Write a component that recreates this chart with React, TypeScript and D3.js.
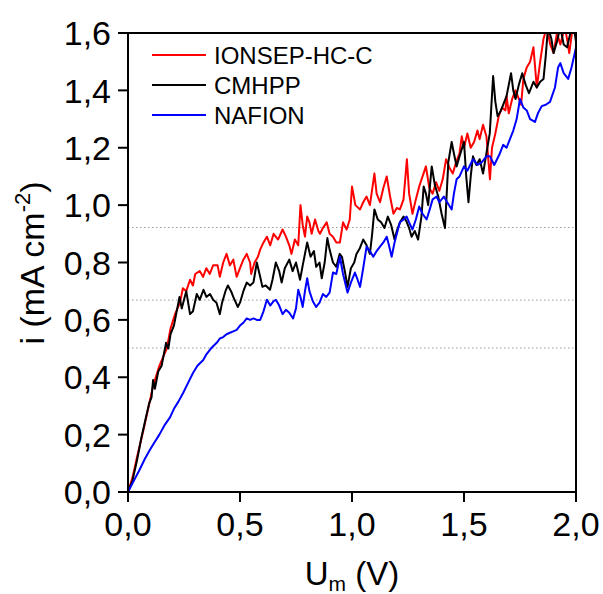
import React from "react";
import * as d3 from "d3";

const seriesNames = ["IONSEP-HC-C", "CMHPP", "NAFION"];
const seriesColors = ["#ff0000", "#000000", "#0000ff"];

const xTicks = [0, 0.5, 1.0, 1.5, 2.0];
const yTicks = [0, 0.2, 0.4, 0.6, 0.8, 1.0, 1.2, 1.4, 1.6];
const refLines = [0.922, 0.669, 0.502];

const ionsep: [number, number][] = [
  [0, 0], [0.02, 0.05], [0.04, 0.12], [0.067, 0.21], [0.09, 0.29], [0.112, 0.37], [0.14, 0.44],
  [0.173, 0.5], [0.19, 0.57], [0.21, 0.62], [0.232, 0.66], [0.245, 0.71], [0.26, 0.7], [0.277, 0.74],
  [0.29, 0.72], [0.3, 0.76], [0.32, 0.77], [0.335, 0.75], [0.35, 0.78], [0.365, 0.76], [0.38, 0.79],
  [0.4, 0.79], [0.41, 0.75], [0.425, 0.8], [0.44, 0.83], [0.455, 0.79], [0.47, 0.81], [0.485, 0.75],
  [0.5, 0.78], [0.515, 0.81], [0.53, 0.83], [0.545, 0.8], [0.55, 0.76], [0.565, 0.8], [0.58, 0.82],
  [0.59, 0.845], [0.605, 0.87], [0.62, 0.89], [0.635, 0.86], [0.65, 0.9], [0.67, 0.88], [0.69, 0.915],
  [0.705, 0.89], [0.72, 0.86], [0.73, 0.83], [0.745, 0.88], [0.76, 0.86], [0.77, 1.0], [0.78, 0.93],
  [0.79, 0.89], [0.8, 0.96], [0.81, 0.94], [0.82, 0.9], [0.835, 0.95], [0.85, 0.91], [0.857, 0.9],
  [0.87, 0.92], [0.887, 0.94], [0.9, 0.9], [0.915, 0.89], [0.93, 0.87], [0.946, 0.87], [0.96, 0.94],
  [0.976, 0.915], [0.99, 0.95], [1.0, 1.065], [1.015, 1.0], [1.036, 0.985], [1.05, 1.01], [1.065, 1.03],
  [1.08, 1.0], [1.1, 1.11], [1.11, 1.04], [1.125, 1.01], [1.14, 1.06], [1.155, 1.1], [1.17, 1.03],
  [1.185, 0.97], [1.2, 0.99], [1.214, 0.985], [1.23, 1.02], [1.245, 1.16], [1.255, 1.04], [1.27, 0.97],
  [1.285, 1.02], [1.3, 1.065], [1.315, 1.1], [1.33, 1.135], [1.345, 1.06], [1.36, 1.04], [1.375, 1.08],
  [1.39, 1.05], [1.405, 1.09], [1.42, 1.16], [1.435, 1.13], [1.45, 1.11], [1.465, 1.15], [1.48, 1.18],
  [1.49, 1.24], [1.5, 1.2], [1.515, 1.25], [1.53, 1.2], [1.545, 1.22], [1.56, 1.26], [1.57, 1.23],
  [1.585, 1.28], [1.6, 1.24], [1.616, 1.09], [1.625, 1.2], [1.64, 1.25], [1.655, 1.31], [1.67, 1.34],
  [1.685, 1.33], [1.69, 1.38], [1.7, 1.32], [1.715, 1.37], [1.73, 1.4], [1.74, 1.38], [1.755, 1.35],
  [1.765, 1.44], [1.78, 1.48], [1.795, 1.5], [1.81, 1.55], [1.825, 1.41], [1.84, 1.5], [1.855, 1.58],
  [1.87, 1.62], [1.885, 1.56], [1.9, 1.53], [1.915, 1.6], [1.93, 1.56], [1.95, 1.62], [1.96, 1.58],
  [1.97, 1.53], [1.985, 1.62], [1.995, 1.6],
];

const cmhpp: [number, number][] = [
  [0, 0], [0.02, 0.04], [0.04, 0.11], [0.06, 0.19], [0.08, 0.26], [0.095, 0.31], [0.105, 0.33],
  [0.112, 0.39], [0.12, 0.36], [0.135, 0.42], [0.15, 0.44], [0.16, 0.48], [0.17, 0.52], [0.18, 0.5],
  [0.19, 0.55], [0.205, 0.58], [0.215, 0.62], [0.23, 0.68], [0.24, 0.64], [0.25, 0.67], [0.26, 0.7],
  [0.277, 0.62], [0.29, 0.63], [0.307, 0.69], [0.32, 0.67], [0.337, 0.705], [0.35, 0.68], [0.366, 0.69],
  [0.38, 0.67], [0.395, 0.66], [0.41, 0.62], [0.42, 0.66], [0.435, 0.7], [0.446, 0.72], [0.46, 0.7],
  [0.47, 0.68], [0.49, 0.645], [0.5, 0.66], [0.515, 0.7], [0.53, 0.73], [0.545, 0.72], [0.56, 0.73],
  [0.575, 0.8], [0.59, 0.75], [0.6, 0.715], [0.615, 0.72], [0.634, 0.705], [0.645, 0.74], [0.66, 0.8],
  [0.675, 0.77], [0.686, 0.73], [0.7, 0.78], [0.72, 0.81], [0.735, 0.77], [0.75, 0.8], [0.768, 0.74],
  [0.78, 0.79], [0.8, 0.87], [0.815, 0.82], [0.83, 0.84], [0.84, 0.785], [0.855, 0.8], [0.865, 0.745],
  [0.878, 0.8], [0.89, 0.885], [0.9, 0.845], [0.915, 0.8], [0.93, 0.785], [0.945, 0.83], [0.955, 0.82],
  [0.968, 0.77], [0.98, 0.715], [0.995, 0.78], [1.01, 0.8], [1.02, 0.83], [1.035, 0.85], [1.05, 0.88],
  [1.065, 0.86], [1.08, 0.83], [1.09, 0.9], [1.1, 0.985], [1.115, 0.95], [1.13, 0.94], [1.145, 0.92],
  [1.16, 0.96], [1.175, 0.93], [1.19, 0.88], [1.2, 0.91], [1.214, 0.94], [1.23, 0.96], [1.245, 0.94],
  [1.255, 0.92], [1.266, 0.89], [1.28, 0.91], [1.295, 0.88], [1.31, 0.96], [1.32, 1.065], [1.33, 1.04],
  [1.34, 1.0], [1.356, 1.135], [1.37, 1.07], [1.385, 1.03], [1.4, 0.97], [1.415, 0.92], [1.43, 1.15],
  [1.445, 1.22], [1.455, 1.18], [1.467, 1.135], [1.48, 1.17], [1.5, 1.22], [1.51, 1.1], [1.52, 1.01],
  [1.53, 1.1], [1.54, 1.17], [1.555, 1.14], [1.57, 1.16], [1.585, 1.11], [1.6, 1.18], [1.615, 1.25],
  [1.63, 1.45], [1.64, 1.36], [1.65, 1.31], [1.665, 1.33], [1.69, 1.38], [1.7, 1.42], [1.71, 1.46],
  [1.72, 1.4], [1.73, 1.37], [1.745, 1.42], [1.76, 1.46], [1.775, 1.42], [1.79, 1.39], [1.81, 1.43],
  [1.825, 1.41], [1.84, 1.43], [1.855, 1.44], [1.865, 1.52], [1.875, 1.62], [1.89, 1.58], [1.9, 1.53],
  [1.915, 1.57], [1.93, 1.62], [1.945, 1.56], [1.96, 1.55], [1.975, 1.6], [1.99, 1.62], [2.0, 1.57],
];

const nafion: [number, number][] = [
  [0, 0], [0.02, 0.03], [0.05, 0.075], [0.075, 0.115], [0.098, 0.147], [0.12, 0.175], [0.14, 0.2],
  [0.165, 0.235], [0.1875, 0.26], [0.205, 0.29], [0.225, 0.315], [0.246, 0.345], [0.265, 0.375],
  [0.29, 0.415], [0.31, 0.44], [0.336, 0.46], [0.35, 0.48], [0.37, 0.5], [0.396, 0.52], [0.41, 0.535],
  [0.425, 0.54], [0.44, 0.55], [0.455, 0.555], [0.47, 0.56], [0.485, 0.565], [0.5, 0.58], [0.515, 0.59],
  [0.53, 0.605], [0.545, 0.6], [0.56, 0.605], [0.575, 0.6], [0.59, 0.6], [0.605, 0.63], [0.62, 0.67],
  [0.635, 0.65], [0.65, 0.665], [0.66, 0.67], [0.675, 0.65], [0.69, 0.62], [0.705, 0.635], [0.72, 0.625],
  [0.737, 0.605], [0.75, 0.64], [0.76, 0.705], [0.77, 0.68], [0.78, 0.645], [0.79, 0.7], [0.8, 0.745],
  [0.81, 0.7], [0.825, 0.665], [0.84, 0.645], [0.855, 0.66], [0.87, 0.69], [0.885, 0.68], [0.9, 0.695],
  [0.915, 0.765], [0.93, 0.76], [0.946, 0.82], [0.96, 0.76], [0.98, 0.695], [0.995, 0.73], [1.013, 0.765],
  [1.025, 0.74], [1.036, 0.715], [1.05, 0.78], [1.065, 0.855], [1.08, 0.84], [1.095, 0.82], [1.11, 0.84],
  [1.125, 0.855], [1.14, 0.87], [1.155, 0.89], [1.165, 0.86], [1.177, 0.82], [1.19, 0.87], [1.2, 0.9],
  [1.214, 0.94], [1.23, 0.95], [1.244, 0.96], [1.255, 0.94], [1.27, 0.915], [1.285, 0.95], [1.3, 0.995],
  [1.315, 0.97], [1.333, 0.95], [1.345, 0.98], [1.36, 1.02], [1.378, 1.03], [1.39, 1.01], [1.41, 1.03],
  [1.425, 1.01], [1.445, 0.985], [1.455, 1.04], [1.467, 1.09], [1.48, 1.1], [1.5, 1.135], [1.515, 1.12],
  [1.54, 1.16], [1.56, 1.14], [1.58, 1.15], [1.6, 1.17], [1.616, 1.17], [1.635, 1.14], [1.66, 1.18],
  [1.675, 1.21], [1.69, 1.2], [1.705, 1.23], [1.72, 1.26], [1.735, 1.3], [1.75, 1.37], [1.765, 1.34],
  [1.78, 1.33], [1.795, 1.3], [1.817, 1.29], [1.83, 1.32], [1.847, 1.345], [1.865, 1.35], [1.884, 1.36],
  [1.906, 1.41], [1.92, 1.48], [1.93, 1.495], [1.945, 1.46], [1.965, 1.44], [1.98, 1.48], [2.0, 1.55],
];

const seriesData = [ionsep, cmhpp, nafion];

const FONT = "'Liberation Sans', Arial, Helvetica, sans-serif";

export default function App() {
  const W = 603, H = 594;
  const left = 128, right = 576, top = 33, bottom = 492;
  const x = d3.scaleLinear().domain([0, 2]).range([left, right]);
  const y = d3.scaleLinear().domain([0, 1.6]).range([bottom, top]);
  const line = d3.line<[number, number]>().x(d => x(d[0])).y(d => y(d[1]));
  const fmt = (v: number) => v.toFixed(1).replace(".", ",");

  return (
    <svg width={W} height={H} style={{ position: "absolute", left: 0, top: 0, background: "#fff" }} fontFamily={FONT}>
      <defs>
        <clipPath id="plotclip">
          <rect x={left} y={top} width={right - left} height={bottom - top} />
        </clipPath>
      </defs>
      <rect x={0} y={0} width={W} height={H} fill="#fff" />
      {refLines.map((v, i) => (
        <line key={i} x1={left} x2={right} y1={y(v)} y2={y(v)} stroke="#9a9a9a" strokeWidth={1} strokeDasharray="1.5,2.5" />
      ))}
      <g clipPath="url(#plotclip)">
        {seriesData.map((s, i) => (
          <path key={i} d={line(s) || ""} fill="none" stroke={seriesColors[i]} strokeWidth={2} strokeLinejoin="round" />
        ))}
      </g>
      <rect x={left} y={top} width={right - left} height={bottom - top} fill="none" stroke="#000" strokeWidth={2} />
      {yTicks.map((t, i) => (
        <g key={i}>
          <line x1={left - 10} x2={left} y1={y(t)} y2={y(t)} stroke="#000" strokeWidth={2} />
          <text x={111} y={y(t)} dy="0.36em" textAnchor="end" fontSize={34} fill="#000">{fmt(t)}</text>
        </g>
      ))}
      {xTicks.map((t, i) => (
        <g key={i}>
          <line x1={x(t)} x2={x(t)} y1={bottom} y2={bottom + 10} stroke="#000" strokeWidth={2} />
          <text x={x(t)} y={536} textAnchor="middle" fontSize={34} fill="#000">{fmt(t)}</text>
        </g>
      ))}
      <text x={352} y={585} textAnchor="middle" fontSize={33} fill="#000">
        U<tspan fontSize={21} dy={6}>m</tspan><tspan dy={-6}> (V)</tspan>
      </text>
      <text transform={`translate(44,263) rotate(-90)`} textAnchor="middle" fontSize={34} fill="#000">
        i (mA cm<tspan fontSize={22} dy={-14}>-2</tspan><tspan dy={14}>)</tspan>
      </text>
      {seriesNames.map((n, i) => (
        <g key={i}>
          <line x1={152} x2={206} y1={55 + i * 30} y2={55 + i * 30} stroke={seriesColors[i]} strokeWidth={2} />
          <text x={214} y={55 + i * 30} dy="0.36em" fontSize={24} fill="#000">{n}</text>
        </g>
      ))}
    </svg>
  );
}
